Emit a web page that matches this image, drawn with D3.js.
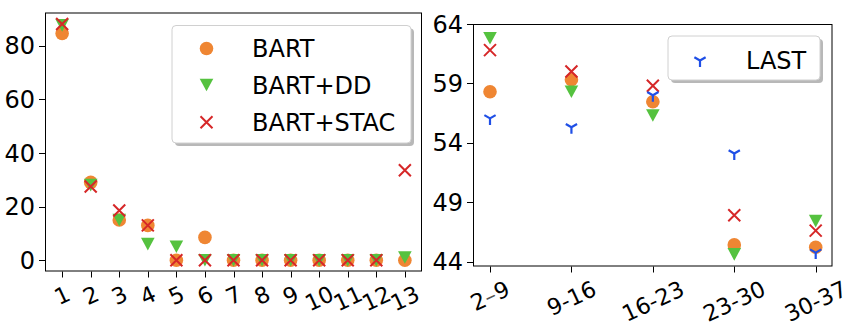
<!DOCTYPE html>
<html>
<head>
<meta charset="utf-8">
<script src="https://cdn.jsdelivr.net/npm/d3@7"></script>
<style>
  html, body { margin: 0; padding: 0; background: #fff; }
  svg { display: block; font-family: "DejaVu Sans", sans-serif; }
</style>
</head>
<body>
<svg id="chart" width="850" height="328"></svg>
<script>
// ---- Left panel: positions 1..13 ----
const positions = [1, 2, 3, 4, 5, 6, 7, 8, 9, 10, 11, 12, 13];
const bart      = [84.5, 29, 15, 13, 0, 8.5, 0, 0, 0, 0, 0, 0, 0];
const bartDD    = [87.5, 28, 15, 6, 5, 0, 0, 0, 0, 0, 0, 0, 1];
const bartSTAC  = [88, 27.5, 18.5, 13, 0, 0, 0, 0, 0, 0, 0, 0, 33.5];
const leftYTicks = [0, 20, 40, 60, 80];

// ---- Right panel: ranges ----
const ranges     = ["2–9", "9-16", "16-23", "23-30", "30-37"];
const bartR      = [58.3, 59.3, 57.45, 45.4, 45.2];
const bartDDR    = [62.8, 58.3, 56.3, 44.6, 47.4];
const bartSTACR  = [61.8, 60.0, 58.8, 47.9, 46.6];
const last       = [56.05, 55.3, 58.0, 53.1, 44.75];
const rightYTicks = [44, 49, 54, 59, 64];

const COLORS = { bart: "#ef8633", dd: "#55c23f", stac: "#d62728", last: "#1f4fe6" };
const FONT = 24;        // y tick labels and legend
const XFONT = 22.5;     // rotated x tick labels
const XROT = 25;        // x tick label rotation, degrees
const svg = d3.select("#chart");

// marker drawing helpers (centered at 0,0)
function drawMarker(g, kind) {
  if (kind === "circle") {
    g.append("circle").attr("r", 6.8).attr("fill", COLORS.bart);
  } else if (kind === "tri") {
    g.append("path").attr("d", "M-6.8,-6.3L6.8,-6.3L0,6.3Z").attr("fill", COLORS.dd);
  } else if (kind === "x") {
    g.append("path").attr("d", "M-6,-6L6,6M-6,6L6,-6")
      .attr("stroke", COLORS.stac).attr("stroke-width", 2).attr("fill", "none");
  } else if (kind === "y") {
    const s = 6.5;
    g.append("path")
      .attr("d", `M0,0L0,${s}M0,0L${-0.866 * s},${-0.5 * s}M0,0L${0.866 * s},${-0.5 * s}`)
      .attr("stroke", COLORS.last).attr("stroke-width", 2.2).attr("fill", "none");
  }
}

function plotSeries(g, cats, values, x, y, kind) {
  g.append("g").selectAll("g").data(values).join("g")
    .attr("transform", (d, i) => `translate(${x(cats[i])},${y(d)})`)
    .each(function () { drawMarker(d3.select(this), kind); });
}

function frameAndAxes(box, x, y, xLabels, yTicks) {
  const g = svg.append("g");
  // y ticks + labels
  yTicks.forEach(t => {
    const yy = Math.round(y(t)) + 0.5;
    g.append("line").attr("x1", box.x0 - 6).attr("x2", box.x0).attr("y1", yy).attr("y2", yy)
      .attr("stroke", "#000").attr("stroke-width", 1);
    g.append("text").attr("x", box.x0 - 10).attr("y", y(t)).attr("dy", "0.36em")
      .attr("text-anchor", "end").attr("font-size", FONT).attr("fill", "#000").text(t);
  });
  // x ticks + rotated labels, the rotated box centred under each tick
  xLabels.forEach(lab => {
    const xx = Math.round(x(lab)) + 0.5;
    g.append("line").attr("x1", xx).attr("x2", xx).attr("y1", box.y1).attr("y2", box.y1 + 6)
      .attr("stroke", "#000").attr("stroke-width", 1);
    const t = g.append("text").attr("text-anchor", "middle").attr("dy", "0.36em")
      .attr("font-size", XFONT).attr("fill", "#000");
    if (String(lab).includes("–")) {
      const parts = String(lab).split("–");
      t.append("tspan").text(parts[0]);
      t.append("tspan").attr("fill", "#555").text("–");
      t.append("tspan").text(parts[1]);
    } else {
      t.text(lab);
    }
    const w = t.node().getComputedTextLength();
    const h = XFONT * 1.05;
    const a = XROT * Math.PI / 180;
    const half = (w * Math.sin(a) + h * Math.cos(a)) / 2;
    t.attr("transform", `translate(${x(lab)},${box.y1 + 6 + 4 + half}) rotate(${-XROT})`);
  });
  // frame
  g.append("rect").attr("x", box.x0 + 0.5).attr("y", box.y0 + 0.5)
    .attr("width", box.x1 - box.x0 - 1).attr("height", box.y1 - box.y0 - 1)
    .attr("fill", "none").attr("stroke", "#000").attr("stroke-width", 1);
}

function legend(x0, y0, w, h, items, markerX, textX, rowY) {
  const g = svg.append("g");
  g.append("rect").attr("x", x0 + 3).attr("y", y0 + 3).attr("width", w).attr("height", h)
    .attr("rx", 4).attr("fill", "#9a9a9a").attr("opacity", 0.7);
  g.append("rect").attr("x", x0).attr("y", y0).attr("width", w).attr("height", h)
    .attr("rx", 4).attr("fill", "#fff").attr("stroke", "#d0d0d0").attr("stroke-width", 1);
  items.forEach((it, i) => {
    const m = g.append("g").attr("transform", `translate(${markerX},${rowY[i]})`);
    drawMarker(m, it.kind);
    g.append("text").attr("x", textX).attr("y", rowY[i]).attr("dy", "0.36em")
      .attr("font-size", FONT).attr("fill", "#000").text(it.label);
  });
}

// ---- Left panel ----
const L = { x0: 45, x1: 422, y0: 12.5, y1: 271.5 };
const xL = d3.scaleLinear().domain([0.4, 13.6]).range([L.x0, L.x1]);
const yL = d3.scaleLinear().domain([-4.2, 92.3]).range([L.y1, L.y0]);
const gL = svg.append("g");
plotSeries(gL, positions, bart, xL, yL, "circle");
plotSeries(gL, positions, bartDD, xL, yL, "tri");
plotSeries(gL, positions, bartSTAC, xL, yL, "x");
frameAndAxes(L, xL, yL, positions, leftYTicks);
legend(172, 25.5, 239, 117.5,
  [{ kind: "circle", label: "BART" }, { kind: "tri", label: "BART+DD" }, { kind: "x", label: "BART+STAC" }],
  206.5, 252, [48.5, 85, 122.3]);

// ---- Right panel ----
const R = { x0: 473, x1: 832.5, y0: 24, y1: 266.5 };
const xR = d3.scalePoint().domain(ranges).range([490, 815.7]);
const yR = d3.scaleLinear().domain([43.58, 64]).range([R.y1, R.y0]);
const gR = svg.append("g");
plotSeries(gR, ranges, bartR, xR, yR, "circle");
plotSeries(gR, ranges, bartDDR, xR, yR, "tri");
plotSeries(gR, ranges, bartSTACR, xR, yR, "x");
plotSeries(gR, ranges, last, xR, yR, "y");
frameAndAxes(R, xR, yR, ranges, rightYTicks);
legend(668, 36, 152, 44, [{ kind: "y", label: "LAST" }], 700, 746, [60.5]);
</script>
</body>
</html>
